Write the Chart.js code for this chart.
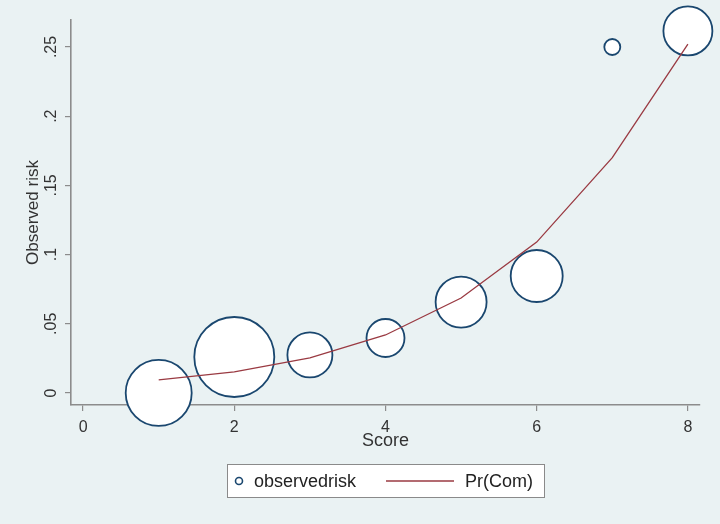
<!Doctype html>
<html>
  <head>
    <meta charset="utf-8"/>
    <style type="text/css">
      body {
        margin: 0px;
        padding: 0px;
        background-color: #eaf2f3;
      }
      #container {
        width: 720px;
        height: 524px;
      }
    </style>
  </head>
  <body>
    <div id="container"><canvas id="chart" width="720" height="524"></canvas></div>
  </body>
  <script src="https://cdn.jsdelivr.net/npm/chart.js@4/dist/chart.umd.min.js"></script>
  <script>
    // observed risk per score, bubble size ~ number of patients
    var scores = [1, 2, 3, 4, 5, 6, 7, 8];
    var observedRisk = [0, 0.026, 0.0275, 0.0397, 0.0657, 0.0845, 0.25, 0.2616];
    var bubbleSize = [33, 40, 22.5, 19, 25.5, 26, 8, 24.5];
    // predicted probability Pr(Com)
    var predicted = [0.0094, 0.0152, 0.0253, 0.0419, 0.0686, 0.109, 0.170, 0.252];
    var xTicks = [0, 2, 4, 6, 8];
    var yTicks = [0, 0.05, 0.1, 0.15, 0.2, 0.25];
    var yTickLabels = ['0', '.05', '.1', '.15', '.2', '.25'];

    var BG = '#eaf2f3';
    var NAVY = '#1a476f';
    var MAROON = '#9a3a42';
    var AXIS = '#8c8c8c';
    var FONT = '"Liberation Sans", Arial, sans-serif';

    var bubbles = scores.map(function(s, i) {
      return {x: s, y: observedRisk[i], r: bubbleSize[i]};
    });
    var curve = scores.map(function(s, i) {
      return {x: s, y: predicted[i]};
    });

    var decor = {
      id: 'decor',
      beforeDraw: function(chart) {
        var ctx = chart.ctx;
        ctx.save();
        ctx.fillStyle = BG;
        ctx.fillRect(0, 0, chart.width, chart.height);
        ctx.restore();
      },
      afterDraw: function(chart) {
        var ctx = chart.ctx;
        var ys = chart.scales.y;
        var area = chart.chartArea;
        ctx.save();
        ctx.fillStyle = '#333';
        // y tick labels, rotated like stata
        ctx.font = '16px ' + FONT;
        ctx.textAlign = 'center';
        ctx.textBaseline = 'middle';
        yTicks.forEach(function(v, i) {
          ctx.save();
          ctx.translate(52, ys.getPixelForValue(v));
          ctx.rotate(-Math.PI / 2);
          ctx.fillText(yTickLabels[i], 0, 0);
          ctx.restore();
        });
        // y title
        ctx.font = '17px ' + FONT;
        ctx.save();
        ctx.translate(33, (area.top + area.bottom) / 2);
        ctx.rotate(-Math.PI / 2);
        ctx.fillText('Observed risk', 0, 0);
        ctx.restore();
        // x title
        ctx.font = '18px ' + FONT;
        ctx.fillText('Score', (area.left + area.right) / 2, 441);

        // legend box
        ctx.fillStyle = '#ffffff';
        ctx.fillRect(227, 464, 317, 33);
        ctx.strokeStyle = '#8a8a8a';
        ctx.lineWidth = 1;
        ctx.strokeRect(227.5, 464.5, 317, 33);
        ctx.beginPath();
        ctx.arc(239, 481, 3.5, 0, Math.PI * 2);
        ctx.strokeStyle = NAVY;
        ctx.lineWidth = 1.6;
        ctx.stroke();
        ctx.beginPath();
        ctx.moveTo(386, 481);
        ctx.lineTo(454, 481);
        ctx.strokeStyle = MAROON;
        ctx.lineWidth = 1.5;
        ctx.stroke();
        ctx.fillStyle = '#222';
        ctx.textAlign = 'left';
        ctx.font = '18px ' + FONT;
        ctx.fillText('observedrisk', 254, 482);
        ctx.fillText('Pr(Com)', 465, 482);
        ctx.restore();
      }
    };

    var chart = new Chart(document.getElementById('chart'), {
      type: 'bubble',
      data: {
        datasets: [{
          label: 'observedrisk',
          data: bubbles,
          backgroundColor: '#ffffff',
          borderColor: NAVY,
          borderWidth: 1.8,
          hoverRadius: 0,
          clip: false,
          order: 1
        }, {
          type: 'line',
          label: 'Pr(Com)',
          data: curve,
          borderColor: MAROON,
          borderWidth: 1.3,
          pointRadius: 0,
          tension: 0,
          fill: false,
          clip: false,
          order: 0
        }]
      },
      options: {
        responsive: false,
        devicePixelRatio: 1,
        animation: false,
        events: [],
        layout: {autoPadding: false, padding: {top: 20, right: 20, left: 0, bottom: 0}},
        plugins: {
          legend: {display: false},
          tooltip: {enabled: false}
        },
        scales: {
          x: {
            type: 'linear',
            min: -0.16,
            max: 8.16,
            z: 1,
            afterBuildTicks: function(s) {
              s.ticks = xTicks.map(function(v) { return {value: v}; });
            },
            afterFit: function(s) { s.height = 119; },
            grid: {drawOnChartArea: false, tickLength: 6, color: AXIS, lineWidth: 1.2},
            border: {color: AXIS, width: 1.6},
            ticks: {
              color: '#333',
              padding: 7,
              font: {size: 16, family: FONT},
              callback: function(v) { return String(v); }
            }
          },
          y: {
            type: 'linear',
            min: -0.0087,
            max: 0.2695,
            z: 1,
            afterBuildTicks: function(s) {
              s.ticks = yTicks.map(function(v) { return {value: v}; });
            },
            afterFit: function(s) { s.width = 71; },
            grid: {drawOnChartArea: false, tickLength: 6, color: AXIS, lineWidth: 1.2},
            border: {color: AXIS, width: 1.6},
            ticks: {display: false}
          }
        }
      },
      plugins: [decor]
    });
  </script>
</html>
